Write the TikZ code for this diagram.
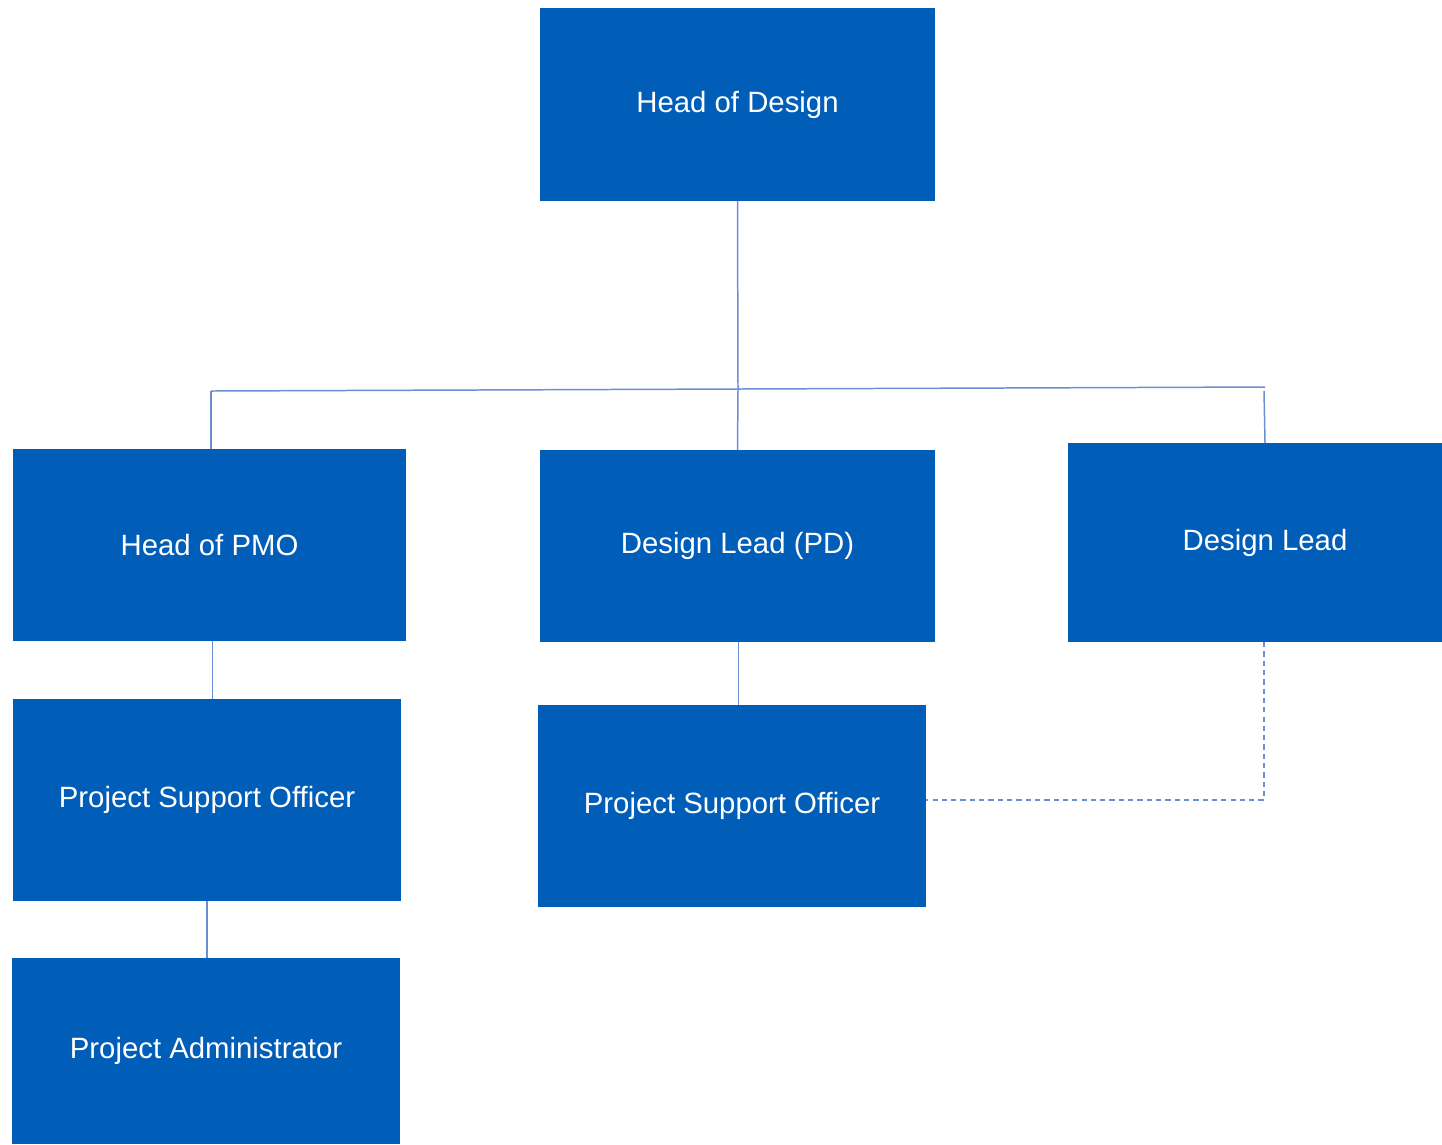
\documentclass[tikz,border=0pt]{standalone}
\usepackage{fontspec}
\setmainfont{Liberation Sans}
\usetikzlibrary{calc}

\definecolor{boxblue}{HTML}{005EB8}
\definecolor{lineblue}{HTML}{6A8FD4}

\tikzset{
  rolebox/.style={draw=none,fill=boxblue,text=white,anchor=north west,
    inner sep=0pt,outer sep=0pt,font=\fontsize{16.7}{20}\selectfont},
  link/.style={draw=lineblue,line width=0.85pt},
  dotlink/.style={link,dash pattern=on 3pt off 2.3pt}
}

\begin{document}
\begin{tikzpicture}[x=0.02cm,y=-0.02cm]
  % Boundary
  \path[use as bounding box] (0,0) rectangle (1442,1144);
  % Boxes
  \node[rolebox,minimum width=395*0.02cm,minimum height=193*0.02cm] (hod) at (540,8) {Head of Design};
  \node[rolebox,minimum width=393*0.02cm,minimum height=192*0.02cm] (pmo) at (13,449) {Head of PMO};
  \node[rolebox,minimum width=395*0.02cm,minimum height=192*0.02cm] (dlpd) at (540,450) {Design Lead (PD)};
  \node[rolebox,minimum width=374*0.02cm,minimum height=199*0.02cm] (dl) at (1068,443) {\hspace*{0.4cm}Design Lead};
  \node[rolebox,minimum width=388*0.02cm,minimum height=202*0.02cm] (psoa) at (13,699) {Project Support Officer};
  \node[rolebox,minimum width=388*0.02cm,minimum height=202*0.02cm] (psob) at (538,705) {Project Support Officer};
  \node[rolebox,minimum width=388*0.02cm,minimum height=186*0.02cm] (pa) at (12,958) {Project Administrator};
  % Junctions
  \coordinate (jl) at (211,391);
  \coordinate (jm) at (738,389);
  \coordinate (jr) at (1265,387);
  \coordinate (dk) at (1264,800);
  % Lines
  \draw[link] (hod.south) -- (jm);
  \draw[link] (jl) -- (jr);
  \draw[link] (jl) -- (jl |- pmo.north);
  \draw[link] (jm) -- (dlpd.north);
  \draw[link] ($(jr)+(-1,4)$) -- (jr |- dl.north);
  \draw[link] ($(pmo.south)+(3,0)$) -- ($(pmo.south |- psoa.north)+(3,0)$);
  \draw[link] (psoa.south) -- (psoa.south |- pa.north);
  \draw[link] ($(dlpd.south)+(1,0)$) -- ($(dlpd.south |- psob.north)+(1,0)$);
  \draw[dotlink] (dk |- dl.south) -- (dk) -- (psob.east |- dk);
\end{tikzpicture}
\end{document}
